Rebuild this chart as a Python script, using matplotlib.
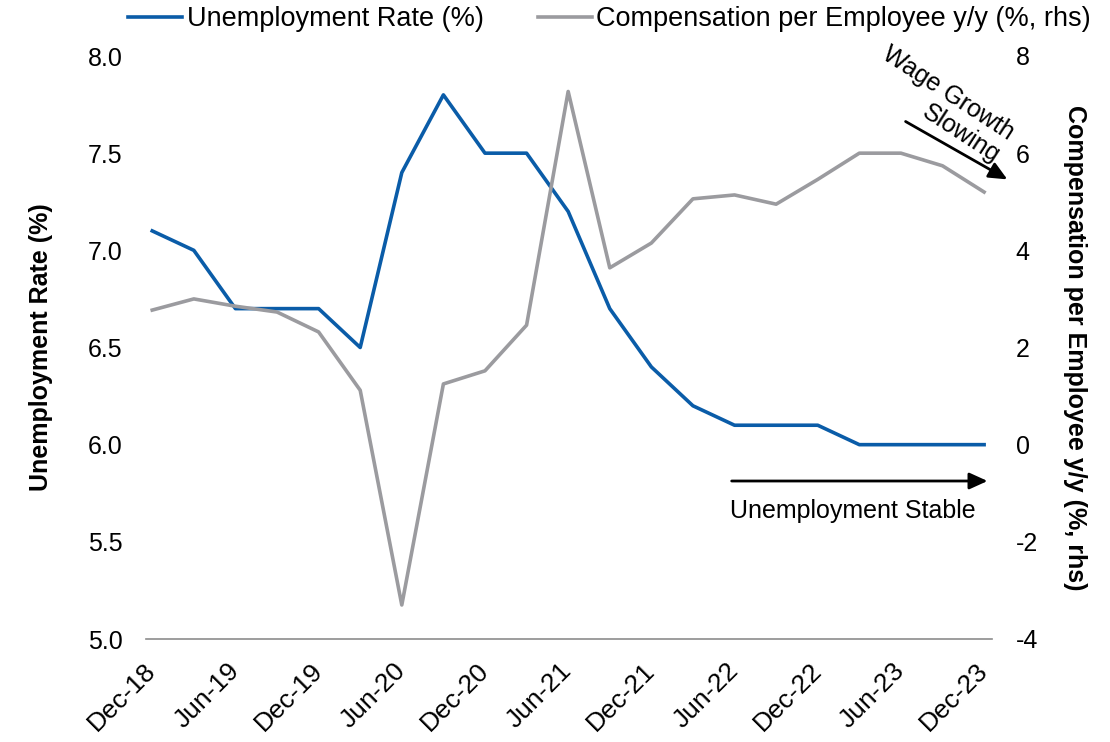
import matplotlib
matplotlib.use("Agg")
import matplotlib.pyplot as plt
from matplotlib.ticker import FormatStrFormatter

plt.rcParams['font.family'] = ['Liberation Sans', 'DejaVu Sans']
plt.rcParams['axes.unicode_minus'] = False

quarters = ["Dec-18", "Mar-19", "Jun-19", "Sep-19", "Dec-19", "Mar-20", "Jun-20",
            "Sep-20", "Dec-20", "Mar-21", "Jun-21", "Sep-21", "Dec-21", "Mar-22",
            "Jun-22", "Sep-22", "Dec-22", "Mar-23", "Jun-23", "Sep-23", "Dec-23"]
unemployment = [7.1, 7.0, 6.7, 6.7, 6.7, 6.5, 7.4, 7.8, 7.5, 7.5, 7.2, 6.7, 6.4,
                6.2, 6.1, 6.1, 6.1, 6.0, 6.0, 6.0, 6.0]
compensation = [2.77, 3.0, 2.85, 2.73, 2.32, 1.12, -3.3, 1.25, 1.52, 2.46, 7.27,
                3.64, 4.15, 5.06, 5.14, 4.95, 5.46, 6.0, 6.0, 5.74, 5.2]
tick_labels = quarters[::2]

BLUE = "#0A5CA8"
GRAY = "#9B9B9F"
FS = 18

fig = plt.figure(figsize=(11.1, 7.42), dpi=100)
ax = fig.add_axes([146/1110, 1-639/742, 846/1110, 583/742])
ax2 = ax.twinx()

x = list(range(len(quarters)))
l1, = ax.plot(x, unemployment, color=BLUE, lw=2.6, label="Unemployment Rate (%)")
l2, = ax2.plot(x, compensation, color=GRAY, lw=2.6, label="Compensation per Employee y/y (%, rhs)")

ax.set_xlim(-0.15, 20.19)
ax.set_ylim(5.0, 8.0)
ax2.set_ylim(-4, 8)
ax.set_yticks([5.0, 5.5, 6.0, 6.5, 7.0, 7.5, 8.0])
ax.yaxis.set_major_formatter(FormatStrFormatter('%.1f'))
ax2.set_yticks([-4, -2, 0, 2, 4, 6, 8])
ax.set_xticks(x[::2])
ax.set_xticklabels(tick_labels, rotation=45, ha='right', va='center', rotation_mode='anchor')

for a in (ax, ax2):
    for s in ('top', 'left', 'right', 'bottom'):
        a.spines[s].set_visible(False)
ax.spines['bottom'].set_visible(True)
ax.spines['bottom'].set_color('#8C8C8C')
ax.spines['bottom'].set_linewidth(1.2)

ax.tick_params(axis='y', length=0, pad=17, labelsize=FS)
ax2.tick_params(axis='y', length=0, pad=17, labelsize=FS)
ax.tick_params(axis='x', length=0, pad=20, labelsize=19)

ax.set_ylabel("Unemployment Rate (%)", fontsize=FS, fontweight='bold', labelpad=25)
ax2.set_ylabel("Compensation per Employee y/y (%, rhs)", fontsize=FS, fontweight='bold',
               rotation=-90, labelpad=35)

fig.legend(handles=[l1, l2], loc='center', bbox_to_anchor=(0.549, 1-19/742),
           ncol=2, frameon=False, fontsize=19.5, handlelength=2.0, handletextpad=0.15,
           columnspacing=2.0, borderaxespad=0)

# annotations
arrow_style = '-|>,head_length=1.1,head_width=0.5'
ax.annotate("", xy=(0.998, 0.271), xytext=(0.689, 0.271), xycoords='axes fraction',
            arrowprops=dict(arrowstyle=arrow_style, color='black', lw=2))
ax.text(0.835, 0.2196, "Unemployment Stable", transform=ax.transAxes, ha='center', va='center',
        fontsize=FS)
ax.annotate("", xy=(1.021, 0.786), xytext=(0.895, 0.890), xycoords='axes fraction',
            arrowprops=dict(arrowstyle=arrow_style, color='black', lw=2),
            annotation_clip=False)
ax.text(0.940, 0.916, "Wage Growth\nSlowing", transform=ax.transAxes, ha='center', va='center',
        fontsize=FS, rotation=-33, multialignment='right', linespacing=1.15)

fig.savefig("out.png", dpi=100)
